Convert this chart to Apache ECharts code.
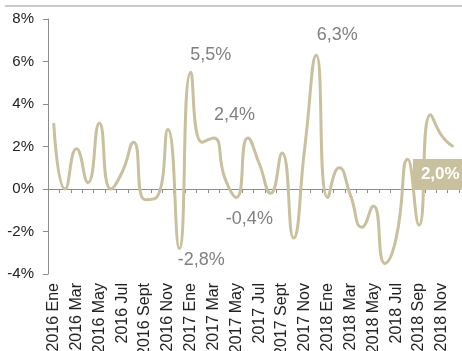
<!DOCTYPE html>
<html lang="es">
<head>
    <meta charset="UTF-8">
    <title></title>
    <style>
        html, body { margin: 0; padding: 0; background: #fff; }
        #chart { width: 462px; height: 351px; }
    </style>
</head>
<body>
    <div id="chart"></div>
<script src="https://cdn.jsdelivr.net/npm/echarts@6/dist/echarts.min.js"></script>
<script type="text/javascript">
    // meses
    const categories = [
        '2016 Ene', '2016 Feb', '2016 Mar', '2016 Abr', '2016 May', '2016 Jun',
        '2016 Jul', '2016 Ago', '2016 Sept', '2016 Oct', '2016 Nov', '2016 Dic',
        '2017 Ene', '2017 Feb', '2017 Mar', '2017 Abr', '2017 May', '2017 Jun',
        '2017 Jul', '2017 Ago', '2017 Sept', '2017 Oct', '2017 Nov', '2017 Dic',
        '2018 Ene', '2018 Feb', '2018 Mar', '2018 Abr', '2018 May', '2018 Jun',
        '2018 Jul', '2018 Ago', '2018 Sep', '2018 Oct', '2018 Nov', '2018 Dic'
    ]
    // variacion %
    const values = [
        3.1, 0.0, 1.9, 0.3, 3.1, 0.0, 0.8, 2.2, -0.5, -0.4, 2.8, -2.8,
        5.5, 2.2, 2.4, 0.5, -0.4, 2.4, 1.2, -0.2, 1.7, -2.3, 2.0, 6.3,
        -0.4, 1.0, -0.3, -1.8, -0.8, -3.5, -2.3, 1.4, -1.7, 3.5, 2.5, 2.0
    ]
    const yTicks = { min: -4, max: 8, step: 2 }
    // puntos con etiqueta
    const calloutIdx = [11, 12, 14, 16, 23]
    const lastIdx = 35

    const lineColor = '#c9c19d'
    // desplazamiento de cada etiqueta respecto al punto
    const offsets = { 11: [22, 12], 12: [20, -17], 14: [21, -23], 16: [13, 22], 23: [21, -20] }

    function fmt(v) {
        return v.toFixed(1).replace('.', ',') + '%'
    }

    const seriesData = values.map(function (v, i) {
        if (calloutIdx.indexOf(i) > -1) {
            return {
                value: v,
                label: {
                    show: true, position: 'inside', offset: offsets[i],
                    formatter: fmt(v), fontSize: 18, color: '#808080',
                    fontFamily: 'Liberation Sans'
                }
            }
        }
        if (i === lastIdx) {
            return {
                value: v,
                label: {
                    show: true, position: 'inside', offset: [-13, 28],
                    formatter: fmt(v), fontSize: 17, fontWeight: 'bold', color: '#fff',
                    fontFamily: 'Liberation Sans', backgroundColor: lineColor,
                    padding: [6, 8, 5, 8], lineHeight: 20
                }
            }
        }
        return v
    })

    let myChart = echarts.init(document.getElementById('chart'), null, { renderer: 'canvas' })
    let option = {
        animation: false,
        textStyle: { fontFamily: 'Liberation Sans' },
        graphic: [{
            type: 'line',
            shape: { x1: 5, y1: 6, x2: 462, y2: 6 },
            style: { stroke: '#cdcac5', lineWidth: 2 }
        }],
        grid: {
            left: 48, right: 3, top: 19, bottom: 77,
            containLabel: false, outerBoundsMode: 'none'
        },
        xAxis: {
            type: 'category',
            data: categories,
            boundaryGap: true,
            axisLine: { lineStyle: { color: '#8c8c8c', width: 1 } },
            axisTick: { show: true, interval: 0, length: 4, lineStyle: { color: '#8c8c8c' } },
            axisLabel: {
                interval: 1, rotate: 90, margin: 9,
                fontSize: 16, color: '#222', fontFamily: 'Liberation Sans'
            }
        },
        yAxis: {
            type: 'value',
            min: yTicks.min, max: yTicks.max, interval: yTicks.step,
            axisLine: { show: true, lineStyle: { color: '#8c8c8c', width: 1 } },
            axisTick: { show: true, length: 5, lineStyle: { color: '#8c8c8c' } },
            splitLine: { show: false },
            axisLabel: {
                formatter: '{value}%', margin: 14,
                fontSize: 15, color: '#222', fontFamily: 'Liberation Sans'
            }
        },
        series: [{
            type: 'line',
            data: seriesData,
            smooth: 0.55,
            silent: true,
            showAllSymbol: true,
            symbol: 'circle',
            symbolSize: 1,
            itemStyle: { color: lineColor },
            lineStyle: { color: lineColor, width: 3 },
            emphasis: { disabled: true },
            z: 2
        }]
    }
    option && myChart.setOption(option)
</script>
</body>
</html>
